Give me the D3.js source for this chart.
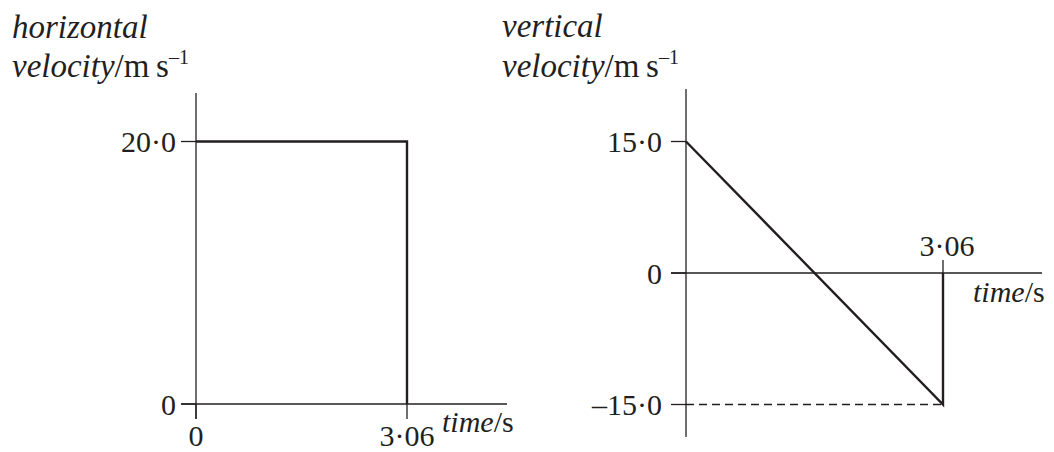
<!DOCTYPE html>
<html>
<head>
  <title>Velocity-time graphs</title>
  <script src="https://d3js.org/d3.v7.min.js"></script>
  <style type="text/css">
    body { margin: 0; background: #fff; }
    svg text { font-family: "Liberation Serif", "Times New Roman", Tinos, "Noto Serif", "DejaVu Serif", Times, serif; font-size: 30px; fill: #231f20; }
    svg text.title { font-size: 33px; }
    .axis { stroke: #231f20; stroke-width: 1.3; fill: none; }
    .graph { stroke: #231f20; stroke-width: 2.4; fill: none; }
    .dash { stroke: #231f20; stroke-width: 1.3; stroke-dasharray: 8,5; fill: none; }
  </style>
</head>
<body>
<div id="chart"></div>
<script type="text/javascript">
  // data
  var times = [0, 3.06];
  var horizVel = [20.0, 20.0];
  var vertVel = [15.0, -15.0];
  var leftYTicks = [0, 20.0];
  var leftYLabels = ["0", "20\u00b70"];
  var rightYTicks = [15.0, 0, -15.0];
  var rightYLabels = ["15\u00b70", "0", "\u201315\u00b70"];
  var timeLabels = ["0", "3\u00b706"];

  var svg = d3.select("#chart").append("svg")
    .attr("width", 1054)
    .attr("height", 452);

  // ---------- left graph: horizontal velocity ----------
  var xL = d3.scaleLinear().domain([0, 3.06]).range([196, 407]);
  var yL = d3.scaleLinear().domain([0, 20]).range([404, 141.5]);

  var gL = svg.append("g");
  // axes
  gL.append("line").attr("class", "axis")
    .attr("x1", xL(0)).attr("x2", xL(0)).attr("y1", 93).attr("y2", 419);
  gL.append("line").attr("class", "axis")
    .attr("x1", 181).attr("x2", 507).attr("y1", yL(0)).attr("y2", yL(0));
  // y ticks
  gL.selectAll(".ytick").data(leftYTicks).enter().append("line")
    .attr("class", "axis")
    .attr("x1", xL(0) - 15).attr("x2", xL(0))
    .attr("y1", function (d) { return yL(d); })
    .attr("y2", function (d) { return yL(d); });
  gL.selectAll(".ylab").data(leftYTicks).enter().append("text")
    .attr("x", 176)
    .attr("y", function (d) { return yL(d); })
    .attr("dy", "0.35em")
    .attr("text-anchor", "end")
    .text(function (d, i) { return leftYLabels[i]; });
  // x ticks (below axis)
  gL.selectAll(".xtick").data(times).enter().append("line")
    .attr("class", "axis")
    .attr("x1", function (d) { return xL(d); })
    .attr("x2", function (d) { return xL(d); })
    .attr("y1", yL(0)).attr("y2", yL(0) + 15);
  gL.selectAll(".xlab").data(times).enter().append("text")
    .attr("x", function (d) { return xL(d); })
    .attr("y", 446)
    .attr("text-anchor", "middle")
    .text(function (d, i) { return timeLabels[i]; });

  var lineL = d3.line()
    .x(function (d) { return xL(d[0]); })
    .y(function (d) { return yL(d[1]); });
  var ptsL = times.map(function (t, i) { return [t, horizVel[i]]; });
  ptsL.push([times[1], 0]);
  gL.append("path").attr("class", "graph").attr("stroke-linejoin", "miter")
    .attr("d", lineL(ptsL));

  // labels
  var tL = gL.append("text").attr("x", 442).attr("y", 432);
  tL.append("tspan").attr("font-style", "italic").text("time");
  tL.append("tspan").text("/s");

  gL.append("text").attr("class", "title").attr("x", 12).attr("y", 38)
    .attr("font-style", "italic").text("horizontal");
  var vL = gL.append("text").attr("class", "title").attr("x", 12).attr("y", 77);
  vL.append("tspan").attr("font-style", "italic").text("velocity");
  vL.append("tspan").text("/m\u2009s");
  vL.append("tspan").attr("font-size", "20px").attr("dy", -13).text("\u20131");

  // ---------- right graph: vertical velocity ----------
  var xR = d3.scaleLinear().domain([0, 3.06]).range([686, 943]);
  var yR = d3.scaleLinear().domain([-15, 15]).range([404.5, 141.5]);

  var gR = svg.append("g");
  gR.append("line").attr("class", "axis")
    .attr("x1", xR(0)).attr("x2", xR(0)).attr("y1", 89).attr("y2", 437);
  gR.append("line").attr("class", "axis")
    .attr("x1", 671).attr("x2", 1042).attr("y1", yR(0)).attr("y2", yR(0));
  gR.selectAll(".ytick").data(rightYTicks).enter().append("line")
    .attr("class", "axis")
    .attr("x1", xR(0) - 15).attr("x2", xR(0))
    .attr("y1", function (d) { return yR(d); })
    .attr("y2", function (d) { return yR(d); });
  gR.selectAll(".ylab").data(rightYTicks).enter().append("text")
    .attr("x", 662)
    .attr("y", function (d) { return yR(d); })
    .attr("dy", "0.35em")
    .attr("text-anchor", "end")
    .text(function (d, i) { return rightYLabels[i]; });
  // 3.06 tick above the axis
  gR.append("line").attr("class", "axis")
    .attr("x1", xR(times[1])).attr("x2", xR(times[1]))
    .attr("y1", yR(0) - 13).attr("y2", yR(0));
  gR.append("text")
    .attr("x", xR(times[1]) + 4).attr("y", 256)
    .attr("text-anchor", "middle")
    .text(timeLabels[1]);
  // dashed guide at final value
  gR.append("line").attr("class", "dash")
    .attr("x1", xR(0)).attr("x2", xR(times[1]))
    .attr("y1", yR(vertVel[1])).attr("y2", yR(vertVel[1]));

  var lineR = d3.line()
    .x(function (d) { return xR(d[0]); })
    .y(function (d) { return yR(d[1]); });
  var ptsR = times.map(function (t, i) { return [t, vertVel[i]]; });
  ptsR.push([times[1], 0]);
  gR.append("path").attr("class", "graph").attr("stroke-linejoin", "miter")
    .attr("d", lineR(ptsR));

  var tR = gR.append("text").attr("x", 973).attr("y", 302);
  tR.append("tspan").attr("font-style", "italic").text("time");
  tR.append("tspan").text("/s");

  gR.append("text").attr("class", "title").attr("x", 502).attr("y", 37)
    .attr("font-style", "italic").text("vertical");
  var vR = gR.append("text").attr("class", "title").attr("x", 502).attr("y", 77);
  vR.append("tspan").attr("font-style", "italic").text("velocity");
  vR.append("tspan").text("/m\u2009s");
  vR.append("tspan").attr("font-size", "20px").attr("dy", -13).text("\u20131");
</script>
</body>
</html>
